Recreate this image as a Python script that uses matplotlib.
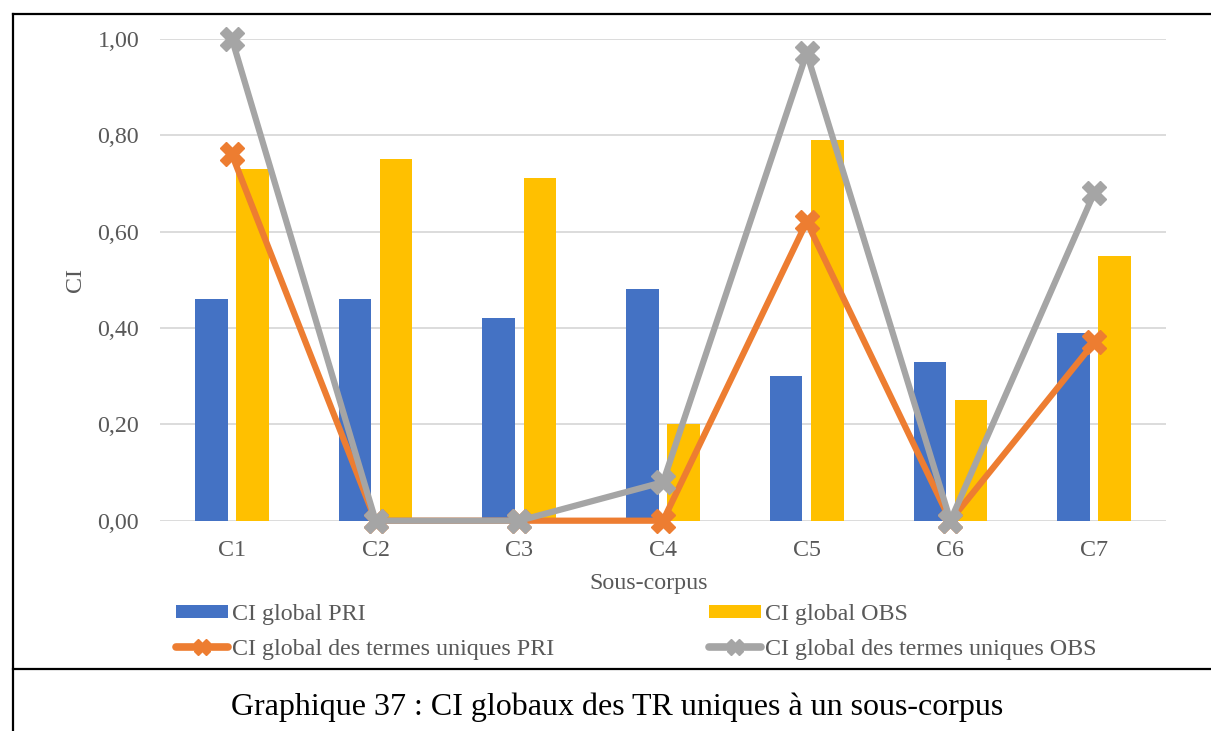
import matplotlib
matplotlib.use("Agg")
import matplotlib.pyplot as plt
from matplotlib.lines import Line2D
from matplotlib.patches import Patch
import numpy as np

categories = ["C1", "C2", "C3", "C4", "C5", "C6", "C7"]
ci_pri = [0.46, 0.46, 0.42, 0.48, 0.30, 0.33, 0.39]
ci_obs = [0.73, 0.75, 0.71, 0.20, 0.79, 0.25, 0.55]
uniq_pri = [0.76, 0.00, 0.00, 0.00, 0.62, 0.00, 0.37]
uniq_obs = [1.00, 0.00, 0.00, 0.08, 0.97, 0.00, 0.68]
yticks = [0.0, 0.2, 0.4, 0.6, 0.8, 1.0]
ytick_labels = ["0,00", "0,20", "0,40", "0,60", "0,80", "1,00"]
series_names = ["CI global PRI", "CI global OBS",
                "CI global des termes uniques PRI", "CI global des termes uniques OBS"]
x_title = "Sous-corpus"
y_title = "CI"
caption = "Graphique 37 : CI globaux des TR uniques à un sous-corpus"

BLUE, YELLOW, ORANGE, GRAY = "#4472C4", "#FFC000", "#ED7D31", "#A5A5A5"
TXT = "#595959"
FONT = "Liberation Serif"
plt.rcParams['font.family'] = [FONT, 'DejaVu Serif']
FS = 17.3

W, H = 1211, 731
fig = plt.figure(figsize=(W / 100, H / 100), dpi=100)

def fx(px):
    return px / W

def fy(py):
    return 1 - py / H

left, right, top, bottom = 160, 1166, 38.7, 520.7
ax = fig.add_axes([fx(left), fy(bottom), fx(right - left), (bottom - top) / H])

x = np.arange(len(categories))
bw = 0.226
off = 0.143
ax.bar(x - off, ci_pri, width=bw, color=BLUE, zorder=2)
ax.bar(x + off, ci_obs, width=bw, color=YELLOW, zorder=2)
ax.plot(x, uniq_pri, color=ORANGE, lw=4.5, marker="X", ms=17, mec=ORANGE, mfc=ORANGE,
        solid_joinstyle="round", zorder=3, clip_on=False)
ax.plot(x, uniq_obs, color=GRAY, lw=4.5, marker="X", ms=17, mec=GRAY, mfc=GRAY,
        solid_joinstyle="round", zorder=4, clip_on=False)

ax.set_xlim(-0.5, len(categories) - 0.5)
ax.set_ylim(0, 1.0)
ax.set_yticks(yticks)
ax.set_yticklabels(ytick_labels)
ax.set_xticks(x)
ax.set_xticklabels(categories)
ax.grid(axis="y", color="#D9D9D9", lw=1.3, zorder=0)
ax.set_axisbelow(True)
for s in ax.spines.values():
    s.set_visible(False)
ax.tick_params(axis="both", length=0, labelsize=FS, labelcolor=TXT)
ax.tick_params(axis="y", pad=15)
ax.tick_params(axis="x", pad=14)

fig.text(fx(75), fy(280), y_title, rotation=90, ha="center", va="center",
         fontsize=FS, color=TXT)
fig.text(fx(649), fy(583), x_title, ha="center", va="center", fontsize=FS, color=TXT)

h_blue = Patch(facecolor=BLUE, edgecolor="none")
h_yel = Patch(facecolor=YELLOW, edgecolor="none")
h_or = Line2D([], [], color=ORANGE, lw=5.5, marker="X", ms=11, solid_capstyle="round")
h_gr = Line2D([], [], color=GRAY, lw=5.5, marker="X", ms=11, solid_capstyle="round")

common = dict(frameon=False, fontsize=FS, handlelength=2.15, handleheight=0.5,
              handletextpad=0.2, borderpad=0, borderaxespad=0, labelspacing=0.58,
              loc="center left", labelcolor=TXT)
leg1 = fig.legend([h_blue, h_or], [series_names[0], series_names[2]],
                  bbox_to_anchor=(fx(176), fy(632)), **common)
leg2 = fig.legend([h_yel, h_gr], [series_names[1], series_names[3]],
                  bbox_to_anchor=(fx(709), fy(632)), **common)

fig.text(fx(617), fy(707), caption, ha="center", va="center", fontsize=23, color="black")

lw_b = 1.6
fig.add_artist(Line2D([fx(13), 1], [fy(14), fy(14)], color="black", lw=lw_b))
fig.add_artist(Line2D([fx(13), fx(13)], [fy(14), 0], color="black", lw=lw_b))
fig.add_artist(Line2D([fx(13), 1], [fy(669), fy(669)], color="black", lw=lw_b))

fig.savefig("out.png", dpi=100, facecolor="white")
